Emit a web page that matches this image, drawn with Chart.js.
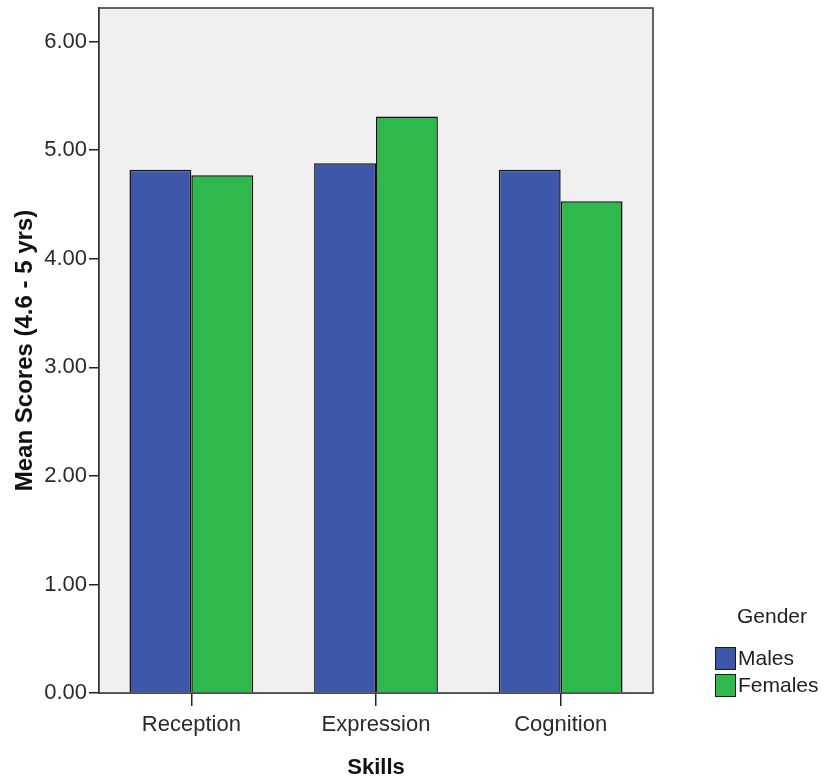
<!DOCTYPE html>
<html>
<head>
<meta charset="utf-8">
<script src="https://cdn.jsdelivr.net/npm/chart.js@4.4.1/dist/chart.umd.min.js"></script>
<style>
  html, body { margin: 0; padding: 0; background: #ffffff; }
  #wrap { width: 830px; height: 783px; }
</style>
</head>
<body>
<div id="wrap"><canvas id="chart" width="830" height="783"></canvas></div>
<script>
// 범주 / 시리즈 값
const skills = ['Reception', 'Expression', 'Cognition'];
const males = [4.82, 4.88, 4.82];
const females = [4.77, 5.31, 4.53];
const yTicks = [0, 1, 2, 3, 4, 5, 6];

const FONT = '"Liberation Sans", Arial, sans-serif';
const BLUE = '#3d57a9';
const GREEN = '#2fb84b';

// 플롯 배경 + 테두리
const plotFrame = {
  id: 'plotFrame',
  beforeDatasetsDraw(chart) {
    const { ctx, chartArea: a } = chart;
    ctx.save();
    ctx.fillStyle = '#f0f0f0';
    ctx.fillRect(a.left, a.top, a.right - a.left, a.bottom - a.top);
    ctx.restore();
  },
  afterDraw(chart) {
    const { ctx, chartArea: a } = chart;
    ctx.save();
    ctx.strokeStyle = '#333333';
    ctx.lineWidth = 1.5;
    ctx.strokeRect(a.left, a.top, a.right - a.left, a.bottom - a.top);
    ctx.restore();
  },
};

// 오른쪽 아래 범례 (Gender)
const genderLegend = {
  id: 'genderLegend',
  afterDraw(chart) {
    const { ctx, chartArea: a } = chart;
    const x0 = a.right + 62;
    ctx.save();
    ctx.font = '21px ' + FONT;
    ctx.fillStyle = '#222222';
    ctx.textAlign = 'center';
    ctx.textBaseline = 'middle';
    ctx.fillText('Gender', x0 + 57, a.bottom - 76);
    ctx.textAlign = 'left';
    chart.data.datasets.forEach((ds, i) => {
      const y = a.bottom - 46 + i * 27;
      ctx.fillStyle = ds.backgroundColor;
      ctx.fillRect(x0, y, 20, 22);
      ctx.strokeStyle = '#1a1a1a';
      ctx.lineWidth = 1;
      ctx.strokeRect(x0 + 0.5, y + 0.5, 20, 22);
      ctx.fillStyle = '#222222';
      ctx.fillText(ds.label, x0 + 23, y + 12);
    });
    ctx.restore();
  },
};

new Chart(document.getElementById('chart'), {
  type: 'bar',
  data: {
    labels: skills,
    datasets: [
      { label: 'Males', data: males, backgroundColor: BLUE, borderColor: '#111111', borderWidth: 1.5 },
      { label: 'Females', data: females, backgroundColor: GREEN, borderColor: '#111111', borderWidth: 1.5 },
    ],
  },
  options: {
    responsive: false,
    animation: false,
    categoryPercentage: 0.67,
    barPercentage: 1.0,
    layout: { padding: { top: 8, right: 177, bottom: 0, left: 0 } },
    plugins: {
      legend: { display: false },
      tooltip: { enabled: false },
    },
    scales: {
      x: {
        grid: { drawOnChartArea: false, drawTicks: true, tickLength: 13, color: '#222222', lineWidth: 1.5, offset: false },
        border: { display: true, color: '#333333', width: 1.5 },
        ticks: { color: '#2a2a2a', font: { family: FONT, size: 22 }, padding: 6 },
        title: {
          display: true,
          text: 'Skills',
          color: '#111111',
          font: { family: FONT, size: 22, weight: 'bold' },
          padding: { top: 0, bottom: 2 },
        },
        afterFit(scale) { scale.height = 90; scale.paddingLeft = 0; scale.paddingRight = 0; },
      },
      y: {
        min: 0,
        max: 6.31,
        afterBuildTicks(scale) { scale.ticks = yTicks.map(v => ({ value: v })); },
        grid: { drawOnChartArea: false, drawTicks: true, tickLength: 10, color: '#222222', lineWidth: 1.5 },
        border: { display: true, color: '#333333', width: 1.5 },
        ticks: {
          color: '#2a2a2a',
          font: { family: FONT, size: 22 },
          padding: 2,
          callback: (v) => Number(v).toFixed(2),
        },
        title: {
          display: true,
          text: 'Mean Scores (4.6 - 5 yrs)',
          color: '#111111',
          font: { family: FONT, size: 24, weight: 'bold' },
          padding: { top: 11, bottom: 0 },
        },
        afterFit(scale) { scale.width = 99; scale.paddingTop = 0; scale.paddingBottom = 0; },
      },
    },
  },
  plugins: [plotFrame, genderLegend],
});
</script>
</body>
</html>
